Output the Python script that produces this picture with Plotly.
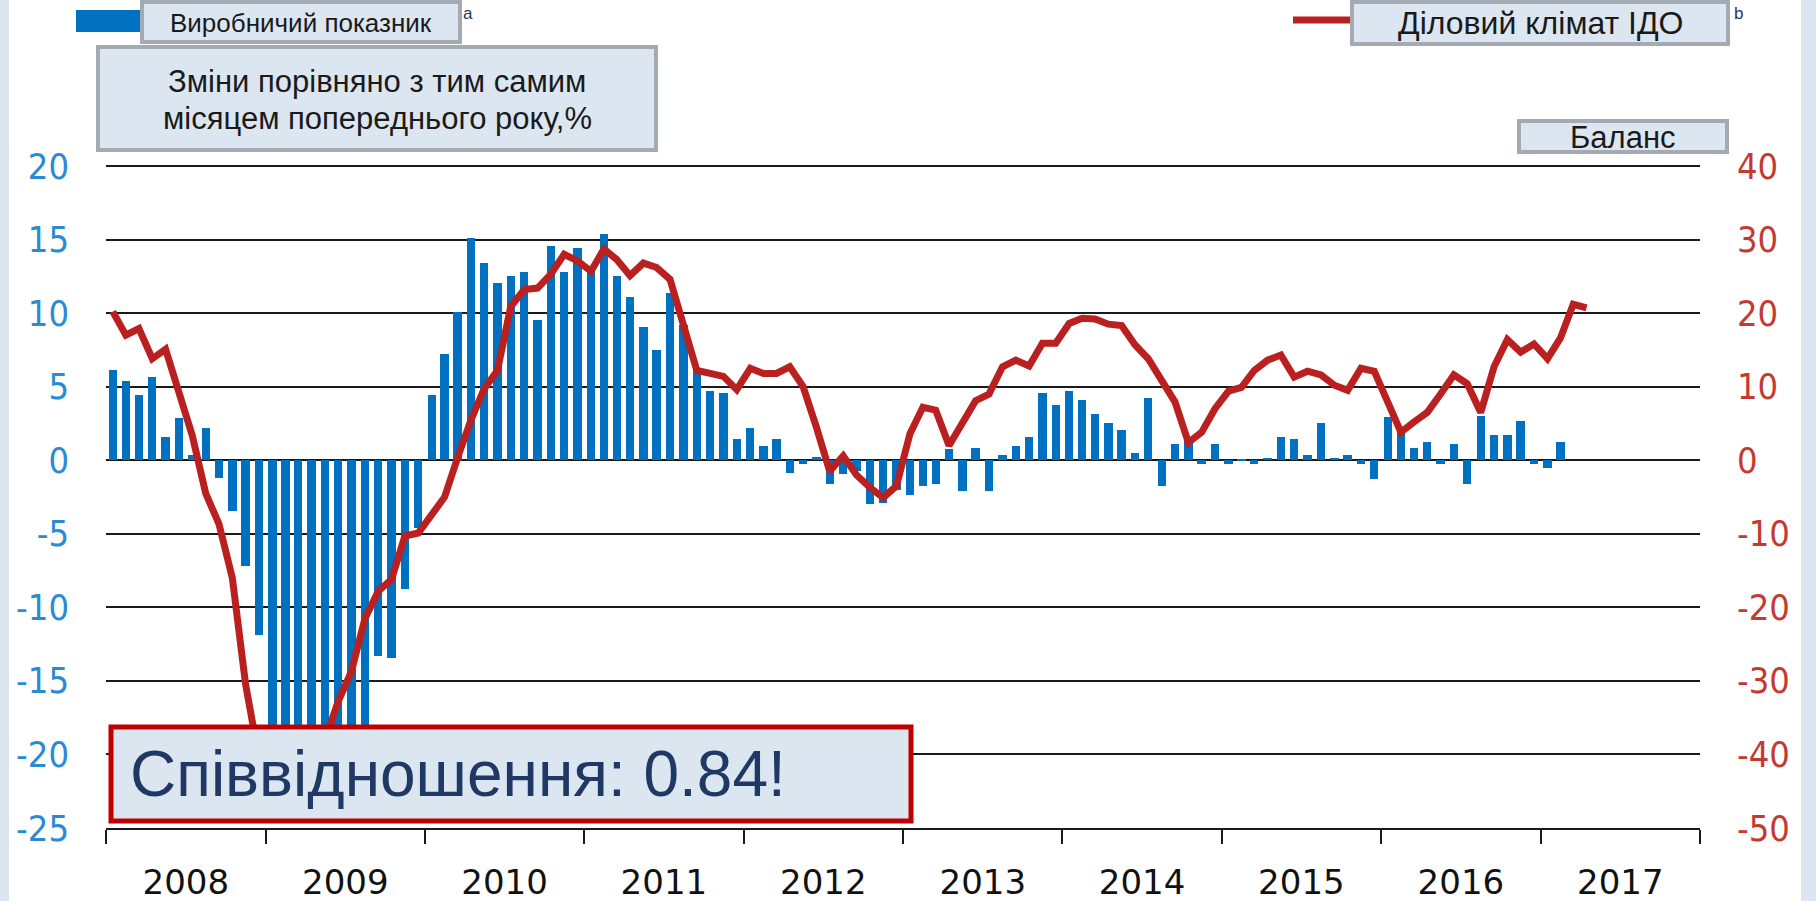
import pandas as pd
import plotly.graph_objects as go

# ---------------- data ----------------
months = pd.date_range("2008-01-01", periods=112, freq="MS")

# Industrial production, % change y/y (left axis), Jan 2008 - Feb 2017
production = [
    6.1, 5.4, 4.4, 5.65, 1.6, 2.9, 0.36, 2.2, -1.2, -3.45, -7.2, -11.9,          # 2008
    -19.5, -22.0, -23.5, -24.0, -23.0, -22.0, -20.5, -19.0, -13.3, -13.45, -8.75, -4.6,  # 2009
    4.4, 7.2, 10.1, 15.1, 13.4, 12.05, 12.5, 12.8, 9.55, 14.55, 12.8, 14.4,       # 2010
    13.0, 15.4, 12.5, 11.1, 9.05, 7.5, 11.4, 9.2, 6.2, 4.7, 4.55, 1.43,           # 2011
    2.2, 0.98, 1.43, -0.84, -0.23, 0.23, -1.6, -0.95, -0.7, -3.0, -2.9, -2.0,     # 2012
    -2.36, -1.75, -1.6, 0.75, -2.1, 0.82, -2.1, 0.34, 0.98, 1.6, 4.55, 3.77,      # 2013
    4.73, 4.1, 3.14, 2.5, 2.05, 0.52, 4.23, -1.75, 1.09, 1.4, -0.23, 1.09,        # 2014
    -0.23, 0.05, -0.23, 0.18, 1.6, 1.43, 0.36, 2.5, 0.18, 0.34, -0.23, -1.3,      # 2015
    2.95, 2.0, 0.82, 1.25, -0.23, 1.09, -1.6, 3.0, 1.73, 1.73, 2.68, -0.23,       # 2016
    -0.5, 1.25,                                                                  # 2017
]

# Business climate (balance, right axis), Jan 2008 - Apr 2017
climate = [
    20.2, 17.0, 17.9, 13.8, 15.1, 9.0, 3.4, -4.5, -8.7, -16.0, -30.5, -40.5,      # 2008
    -44.5, -46.5, -46.0, -43.5, -38.0, -32.8, -28.7, -21.5, -17.8, -16.2, -10.3, -9.9,  # 2009
    -7.4, -5.0, 0.3, 5.4, 9.7, 12.2, 20.9, 23.2, 23.4, 25.3, 28.0, 27.1,          # 2010
    25.7, 28.7, 27.3, 25.1, 26.8, 26.2, 24.6, 18.2, 12.2, 11.8, 11.4, 9.6,        # 2011
    12.5, 11.8, 11.8, 12.7, 10.0, 4.5, -1.5, 0.6, -2.0, -3.7, -5.1, -3.5,         # 2012
    3.6, 7.2, 6.8, 2.0, 4.9, 8.1, 9.0, 12.7, 13.6, 12.8, 15.9, 15.9,              # 2013
    18.6, 19.3, 19.2, 18.5, 18.3, 15.7, 13.8, 10.6, 7.9, 2.4, 3.8, 7.0,           # 2014
    9.4, 9.9, 12.2, 13.6, 14.3, 11.3, 12.1, 11.6, 10.2, 9.5, 12.5, 12.1,          # 2015
    7.7, 3.8, 5.2, 6.5, 9.0, 11.6, 10.4, 6.5, 12.7, 16.4, 14.7, 15.8,             # 2016
    13.8, 16.6, 21.2, 20.7,                                                      # 2017
]

left_ticks = [-25, -20, -15, -10, -5, 0, 5, 10, 15, 20]
left_labels = ["-25", "-20", "-15", "-10", "-5", "0", "5", "10", "15", "20"]
right_ticks = [-50, -40, -30, -20, -10, 0, 10, 20, 30, 40]
right_labels = ["-50", "-40", "-30", "-20", "-10", "0", "10", "20", "30", "40"]

label_production = "Виробничий показник"
label_climate = "Діловий клімат ІДО"
label_units_1 = "Зміни порівняно з тим самим"
label_units_2 = "місяцем попереднього року,%"
label_balance = "Баланс"
label_ratio = "Співвідношення: 0.84!"

# ---------------- geometry helpers (page pixels -> paper) ----------------
FIG_W, FIG_H = 1816, 901
ML, MR, MT, MB = 106, 116, 166, 73
PW = FIG_W - ML - MR
PH = FIG_H - MT - MB


def px(x):
    return (x - ML) / PW


def py(y):
    return (FIG_H - MB - y) / PH


BLUE = "#0070c0"
RED = "#bb2020"
BOXFILL = "#dce6f1"
BOXLINE = "#a3aab3"
GRID = "#1a1a1a"
TXT = "Liberation Sans, Arial, sans-serif"

fig = go.Figure()

fig.add_trace(go.Bar(
    x=months[:len(production)], y=production,
    xperiod="M1", xperiodalignment="middle",
    width=1.66e9,
    marker=dict(color=BLUE, line=dict(width=0)),
    yaxis="y",
    hoverinfo="skip",
))

fig.add_trace(go.Scatter(
    x=months[:len(climate)], y=climate,
    xperiod="M1", xperiodalignment="middle",
    mode="lines",
    line=dict(color=RED, width=7),
    yaxis="y2",
    hoverinfo="skip",
))

shapes = []
# top grid line (at the range edge, which plotly does not draw)
shapes.append(dict(type="line", xref="paper", yref="paper", layer="below",
                   x0=0, x1=1, y0=1, y1=1, line=dict(color=GRID, width=2)))
# light blue side strips
shapes.append(dict(type="rect", xref="paper", yref="paper", layer="below",
                   x0=px(0), x1=px(9), y0=py(FIG_H), y1=py(0),
                   fillcolor=BOXFILL, line=dict(width=0)))
shapes.append(dict(type="rect", xref="paper", yref="paper", layer="below",
                   x0=px(1801), x1=px(FIG_W), y0=py(FIG_H), y1=py(0),
                   fillcolor=BOXFILL, line=dict(width=0)))
# legend swatches
shapes.append(dict(type="rect", xref="paper", yref="paper", layer="above",
                   x0=px(76), x1=px(142), y0=py(32), y1=py(10),
                   fillcolor=BLUE, line=dict(width=0)))
shapes.append(dict(type="line", xref="paper", yref="paper", layer="above",
                   x0=px(1293), x1=px(1356), y0=py(20), y1=py(20),
                   line=dict(color=RED, width=7)))


def box(x0, y0, x1, y1, color, lw):
    return dict(type="rect", xref="paper", yref="paper", layer="above",
                x0=px(x0), x1=px(x1), y0=py(y1), y1=py(y0),
                fillcolor=BOXFILL, line=dict(color=color, width=lw))


shapes.append(box(142, 2, 460, 42, BOXLINE, 4))     # production label
shapes.append(box(98, 47, 656, 150, BOXLINE, 4))    # units label
shapes.append(box(1352, 2, 1728, 44, BOXLINE, 4))   # climate label
shapes.append(box(1519, 121, 1727, 152, BOXLINE, 4))  # balance label
shapes.append(box(111, 727, 911, 821, "#c00000", 5))  # ratio label

annotations = []


def text(s, x, y, size, color="#1a1a1a", xanchor="center"):
    annotations.append(dict(text=s, xref="paper", yref="paper",
                            x=px(x), y=py(y), xanchor=xanchor, yanchor="middle",
                            showarrow=False,
                            font=dict(family=TXT, size=size, color=color)))


text(label_production, 301, 23, 26)
text("a", 468, 13, 17, "#1f3864")
text(label_units_1, 377, 82, 31)
text(label_units_2, 377, 119, 31)
text(label_climate, 1540, 23, 32)
text("b", 1738, 13, 17, "#1f3864")
text(label_balance, 1623, 137, 31)
text(label_ratio, 128, 774, 64, "#1f3864", xanchor="left")

fig.update_layout(
    width=FIG_W, height=FIG_H,
    margin=dict(l=ML, r=MR, t=MT, b=MB, pad=0, autoexpand=False),
    paper_bgcolor="white", plot_bgcolor="white",
    showlegend=False,
    bargap=0,
    shapes=shapes,
    annotations=annotations,
    xaxis=dict(
        type="date",
        range=["2008-01-01", "2018-01-01"],
        tick0="2008-01-01", dtick="M12", tickformat="%Y",
        ticklabelmode="period",
        ticks="outside", ticklen=14, tickwidth=2, tickcolor=GRID,
        showgrid=False, zeroline=False,
        showline=True, linecolor=GRID, linewidth=2,
        tickfont=dict(family="DejaVu Sans, Verdana, sans-serif", size=34, color="#111111"),
        ticklabelstandoff=9,
        automargin=False,
        fixedrange=True,
    ),
    yaxis=dict(
        range=[-25, 20],
        tickvals=left_ticks, ticktext=left_labels,
        showgrid=True, gridcolor=GRID, gridwidth=2,
        zeroline=False, showline=False, ticks="",
        tickfont=dict(family="DejaVu Sans Condensed, Liberation Sans, sans-serif",
                      size=36, color="#2a8bd4"),
        ticklabelstandoff=36,
        automargin=False,
        fixedrange=True,
    ),
    yaxis2=dict(
        range=[-50, 40],
        overlaying="y", side="right",
        tickvals=right_ticks, ticktext=right_labels,
        showgrid=False, zeroline=False, showline=False, ticks="",
        tickfont=dict(family="DejaVu Sans Condensed, Liberation Sans, sans-serif",
                      size=36, color="#c43a31"),
        ticklabelstandoff=36,
        automargin=False,
        fixedrange=True,
    ),
)

fig.write_html(
    "out.html",
    config={"displayModeBar": False},
    post_script="document.body.style.margin='0';document.body.style.overflow='hidden';",
)
